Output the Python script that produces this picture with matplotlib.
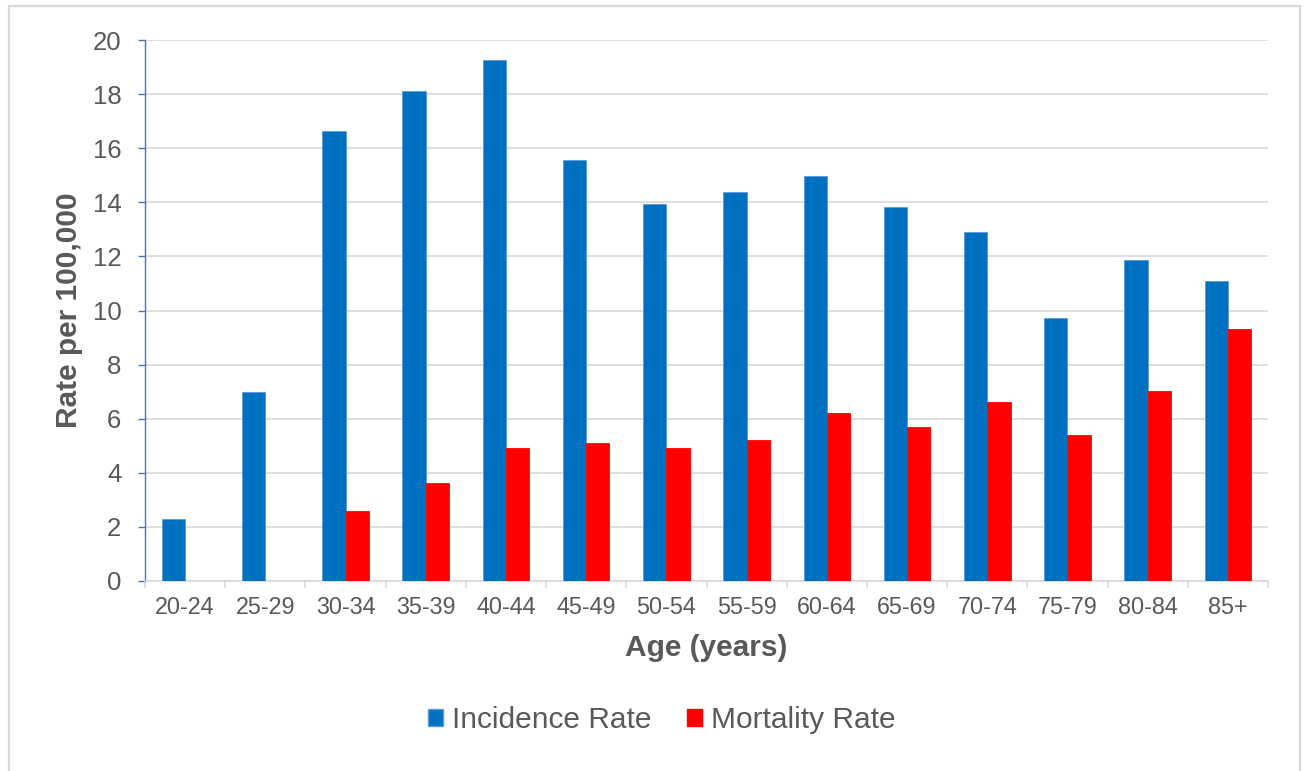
import matplotlib
matplotlib.use('Agg')
import matplotlib.pyplot as plt
from matplotlib.patches import Patch, Rectangle
import numpy as np

age_groups = ['20-24', '25-29', '30-34', '35-39', '40-44', '45-49', '50-54',
              '55-59', '60-64', '65-69', '70-74', '75-79', '80-84', '85+']
incidence = [2.30, 6.97, 16.62, 18.11, 19.25, 15.58, 13.94,
             14.38, 14.97, 13.82, 12.90, 9.73, 11.85, 11.09]
mortality = [0.0, 0.0, 2.60, 3.61, 4.92, 5.11, 4.92,
             5.22, 6.21, 5.71, 6.62, 5.41, 7.03, 9.32]
y_ticks = [0, 2, 4, 6, 8, 10, 12, 14, 16, 18, 20]

blue = '#0070C0'
red = '#FF0000'
text_gray = '#595959'
grid_gray = '#D9D9D9'

plt.rcParams['font.family'] = ['Liberation Sans', 'DejaVu Sans']

fig = plt.figure(figsize=(13.08, 7.71), dpi=100)
ax = fig.add_axes([145 / 1308, 1 - 581 / 771, 1123 / 1308, 541 / 771])

# chart frame
fig.patches.append(Rectangle((9 / 1308, -0.05), 1291 / 1308, 1.05 - 6 / 771,
                             transform=fig.transFigure, fill=False,
                             edgecolor='#D9D9D9', linewidth=1.6))

x = np.arange(len(age_groups))
w = 0.29
ax.bar(x - w / 2, incidence, width=w, color=blue, edgecolor='#5B9BD5', linewidth=0.6, zorder=3)
ax.bar(x + w / 2, mortality, width=w, color=red, edgecolor=red, linewidth=0.6, zorder=3)

ax.set_xlim(-0.5, len(age_groups) - 0.5)
ax.set_ylim(0, 20)
ax.set_yticks(y_ticks)
ax.set_xticks(x)
ax.set_xticklabels(age_groups)
ax.set_xticks(np.arange(len(age_groups) + 1) - 0.5, minor=True)

ax.yaxis.grid(True, color=grid_gray, linewidth=1.2, zorder=0)
ax.set_axisbelow(True)

for s in ['top', 'right']:
    ax.spines[s].set_visible(False)
ax.spines['left'].set_color('#4472C4')
ax.spines['left'].set_linewidth(1.0)
ax.spines['bottom'].set_color(grid_gray)
ax.spines['bottom'].set_linewidth(1.2)

ax.tick_params(axis='y', colors='#4472C4', labelcolor=text_gray, labelsize=18.5,
               length=5, width=1.0, pad=12)
ax.tick_params(axis='x', which='major', length=0, labelcolor=text_gray, labelsize=16.8, pad=11)
ax.tick_params(axis='x', which='minor', length=5, width=1.2, color=grid_gray)

ax.set_ylabel('Rate per 100,000', fontsize=21.5, fontweight='bold', color=text_gray)
ax.yaxis.set_label_coords(-0.055, 0.5)
ax.set_xlabel('Age (years)', fontsize=21.5, fontweight='bold', color=text_gray)
ax.xaxis.set_label_coords(0.4996, -0.098)

handles = [Patch(facecolor=blue, edgecolor='#5B9BD5', label='Incidence Rate'),
           Patch(facecolor=red, edgecolor=red, label='Mortality Rate')]
leg = fig.legend(handles=handles, loc='center', bbox_to_anchor=(662 / 1308, 1 - 720 / 771),
                 ncol=2, frameon=False, fontsize=21.5, handlelength=0.5, handleheight=0.5,
                 handletextpad=0.3, columnspacing=1.2)
for t in leg.get_texts():
    t.set_color(text_gray)

plt.savefig('out.png', dpi=100)
